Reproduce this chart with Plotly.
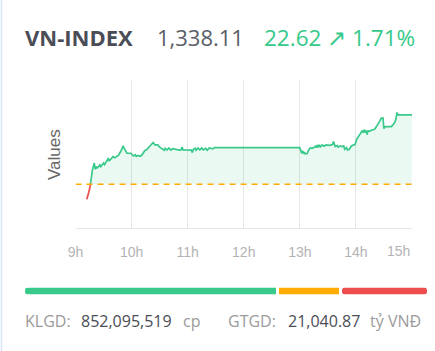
import plotly.graph_objects as go

W, H = 435, 351

# ---------------- data ----------------
index_name = "VN-INDEX"
close_value = 1338.11
change_value = 22.62
change_pct = 1.71
ref_value = 1315.49

times = ["9:12", "9:13", "9:14", "9:15", "9:16", "9:18", "9:20", "9:21", "9:22", "9:23",
         "9:24", "9:26", "9:27", "9:28", "9:30", "9:31", "9:32", "9:34", "9:35", "9:36",
         "9:37", "9:39", "9:40", "9:42", "9:43", "9:46", "9:48", "9:49", "9:51", "9:52",
         "9:53", "9:55", "9:59", "10:02", "10:04", "10:05", "10:07", "10:09", "10:11", "10:12",
         "10:14", "10:16", "10:18", "10:20", "10:22", "10:23", "10:25", "10:27", "10:28", "10:30",
         "10:33", "10:35", "10:36", "10:38", "10:40", "10:42", "10:44", "10:47", "10:51", "10:53",
         "10:54", "10:55", "11:00", "11:04", "11:05", "11:06", "11:08", "11:09", "11:11", "11:13",
         "11:15", "11:17", "11:19", "11:21", "11:23", "11:27", "11:29", "11:30",
         "13:00", "13:01", "13:02", "13:03", "13:04", "13:05", "13:06", "13:08", "13:09", "13:11",
         "13:13", "13:16", "13:17", "13:18", "13:19", "13:20", "13:21", "13:22", "13:24", "13:26",
         "13:28", "13:32", "13:35", "13:36", "13:37", "13:38", "13:40", "13:41", "13:43", "13:45",
         "13:47", "13:48", "13:50", "13:51", "13:53", "13:55", "13:57", "13:59", "14:01", "14:03",
         "14:05", "14:07", "14:08", "14:09", "14:10", "14:11", "14:12", "14:13", "14:15", "14:17",
         "14:19", "14:20", "14:22", "14:24", "14:26", "14:27", "14:29", "14:30", "14:31", "14:33",
         "14:38", "14:40", "14:42", "14:43", "14:44", "14:45", "15:00"]
values = [1310.6, 1312.2, 1312.7, 1313.9, 1315.6, 1320.1, 1322.4, 1320.4, 1321.3, 1320.8,
          1321.0, 1321.8, 1321.2, 1321.5, 1322.4, 1321.9, 1322.3, 1323.4, 1324.0, 1323.2,
          1323.4, 1324.3, 1324.5, 1324.1, 1324.4, 1325.0, 1326.0, 1326.7, 1328.0, 1327.2,
          1326.6, 1325.6, 1325.6, 1324.7, 1325.1, 1324.6, 1324.9, 1324.6, 1325.0, 1325.6,
          1326.4, 1326.7, 1327.3, 1327.9, 1328.6, 1329.1, 1328.3, 1328.4, 1328.3, 1327.6,
          1327.0, 1326.6, 1327.2, 1326.7, 1327.3, 1326.6, 1327.1, 1326.8, 1326.6, 1326.7,
          1327.6, 1326.7, 1326.6, 1326.6, 1325.8, 1326.8, 1327.2, 1326.6, 1327.3, 1326.7,
          1327.3, 1326.7, 1327.2, 1326.6, 1327.3, 1327.0, 1327.5, 1327.4,
          1327.4, 1326.0, 1325.6, 1326.4, 1325.4, 1326.0, 1325.4, 1325.5, 1326.4, 1327.3,
          1327.2, 1327.6, 1328.1, 1327.4, 1328.3, 1327.6, 1328.3, 1327.7, 1328.3, 1327.9,
          1328.3, 1328.2, 1328.4, 1329.4, 1328.3, 1327.8, 1328.1, 1327.6, 1328.0, 1327.8,
          1328.0, 1326.9, 1327.4, 1326.7, 1326.9, 1327.9, 1328.3, 1328.4, 1330.2, 1331.0,
          1332.0, 1333.0, 1332.3, 1333.3, 1332.4, 1333.0, 1331.7, 1332.9, 1332.8, 1333.2,
          1333.3, 1333.4, 1334.3, 1335.2, 1336.3, 1337.0, 1337.1, 1333.6, 1334.2, 1334.3,
          1334.3, 1335.0, 1335.9, 1337.0, 1338.9, 1338.11, 1338.11]

hour_ticks = [9, 10, 11, 12, 13, 14, 15]
hour_labels = ["9h", "10h", "11h", "12h", "13h", "14h", "15h"]
y_range = [1301.2, 1349.5]

breadth_labels = ["Tăng", "Đứng giá", "Giảm"]
breadth_counts = [251, 60, 85]

klgd = "852,095,519"
gtgd = "21,040.87"

# ---------------- styles ----------------
GREEN = "#38c98b"
RED = "#ee4d4d"
ORANGE = "#ffab00"
GRID = "#e6e6e6"
FONT = "Open Sans"
TICK_FONT = dict(family="Liberation Sans, Arial", size=14, color="#b3b3b3")

def to_hours(t):
    h, m = t.split(":")
    return int(h) + int(m) / 60.0

x_hours = [to_hours(t) for t in times]

# split into red (below reference) and green part
k = next(i for i, v in enumerate(values) if v >= ref_value)
red_x, red_y = x_hours[:k + 1], values[:k + 1]
grn_x, grn_y = x_hours[k:], values[k:]

def px(x):
    return x / W

def py(y):
    return 1 - y / H

fig = go.Figure()

# invisible baseline for fill
fig.add_trace(go.Scatter(x=grn_x, y=[ref_value] * len(grn_x), mode="lines",
                         line=dict(width=0, color="rgba(0,0,0,0)"), hoverinfo="skip",
                         showlegend=False))
fig.add_trace(go.Scatter(x=grn_x, y=grn_y, mode="lines", fill="tonexty",
                         fillcolor="rgba(56,201,139,0.10)",
                         line=dict(color=GREEN, width=1.7, shape="linear"),
                         showlegend=False))
fig.add_trace(go.Scatter(x=red_x, y=red_y, mode="lines",
                         line=dict(color=RED, width=1.7), showlegend=False))
# reference dashed line across the session
fig.add_trace(go.Scatter(x=[hour_ticks[0], hour_ticks[-1]], y=[ref_value, ref_value],
                         mode="lines", line=dict(color=ORANGE, width=1.6, dash="6px,5px"),
                         showlegend=False, hoverinfo="skip"))

# ---------------- breadth bar ----------------
total = sum(breadth_counts)
gap = total * 3.0 / 396.0
adv, unch, dec = breadth_counts
cap = 6
bar_common = dict(orientation="h", y=[0], xaxis="x2", yaxis="y2", width=1,
                  showlegend=False, hoverinfo="skip")
fig.add_trace(go.Bar(x=[adv - cap + 1], base=[cap - 1], marker=dict(color=GREEN, line=dict(width=0)), **bar_common))
fig.add_trace(go.Bar(x=[-cap], base=[cap], marker=dict(color=GREEN, cornerradius=4, line=dict(width=0)), **bar_common))
fig.add_trace(go.Bar(x=[unch], base=[adv + gap], marker=dict(color=ORANGE, line=dict(width=0)), **bar_common))
fig.add_trace(go.Bar(x=[dec], base=[adv + unch + 2 * gap], marker=dict(color=RED, cornerradius=4, line=dict(width=0)), **bar_common))

# ---------------- layout ----------------
x0, x1 = 75.5, 412.0
y_top, y_bot = 80.0, 228.0

# last label is drawn as an annotation (kept inside the card, like the reference)
tick_text = hour_labels[:-1] + [""]

fig.update_layout(
    width=W, height=H,
    margin=dict(l=0, r=0, t=0, b=0, autoexpand=False),
    paper_bgcolor="white", plot_bgcolor="white",
    barmode="overlay",
    font=dict(family=FONT),
    xaxis=dict(domain=[px(x0), px(x1)], range=[8.999, 15.001], tickvals=hour_ticks,
               ticktext=tick_text, showgrid=True, gridcolor=GRID, gridwidth=1,
               showline=True, linecolor=GRID, linewidth=1, zeroline=False,
               ticks="", ticklabelstandoff=11, automargin=False,
               tickfont=TICK_FONT, fixedrange=True),
    yaxis=dict(domain=[py(y_bot), py(y_top)], range=y_range, showgrid=False, automargin=False,
               showticklabels=False, zeroline=False, showline=False, fixedrange=True),
    xaxis2=dict(domain=[px(25), px(427)], range=[0, total + 2 * gap], visible=False,
                anchor="y2", fixedrange=True, automargin=False),
    yaxis2=dict(domain=[py(294.5), py(287.5)], range=[-0.5, 0.5], visible=False,
                anchor="x2", fixedrange=True, automargin=False),
)

# card border on the left
fig.add_shape(type="line", xref="paper", yref="paper", x0=px(1.5), x1=px(1.5), y0=0, y1=1,
              line=dict(color="#d5e6f5", width=1.5))

ann = []
def text(x, y, s, size, color, bold=False, family=FONT, angle=0, xanchor="left"):
    ann.append(dict(x=px(x), y=py(y), xref="paper", yref="paper", text=(f"<b>{s}</b>" if bold else s),
                    showarrow=False, xanchor=xanchor, yanchor="middle", textangle=angle,
                    font=dict(family=family, size=size, color=color)))

text(23, 37, index_name, 22, "#4a4d56", bold=True)
text(155, 37, f"{close_value:,.2f}", 22, "#5a5e66")
text(262, 37, f"{change_value:.2f} \u2197 {change_pct:.2f}%", 22.5, "#35c98a")

text(54, 155, "Values", 17, "#666666", family="Liberation Sans, Arial", angle=-90, xanchor="center")

# last x tick label, nudged inside the card
ann.append(dict(x=hour_ticks[-1], y=py(250.5), xref="x", yref="paper", text=hour_labels[-1],
                showarrow=False, xanchor="right", yanchor="middle",
                font=TICK_FONT))

text(23, 321, "KLGD:", 16, "#9b9b9b")
text(79, 321, klgd, 16, "#4a4d56")
text(181, 321, "cp", 16, "#9b9b9b")
text(226, 321, "GTGD:", 16, "#9b9b9b")
text(286, 321, gtgd, 16, "#4a4d56")
text(368, 321, "tỷ VNĐ", 16, "#9b9b9b")

fig.update_layout(annotations=ann)

fig.write_html("out.html")
